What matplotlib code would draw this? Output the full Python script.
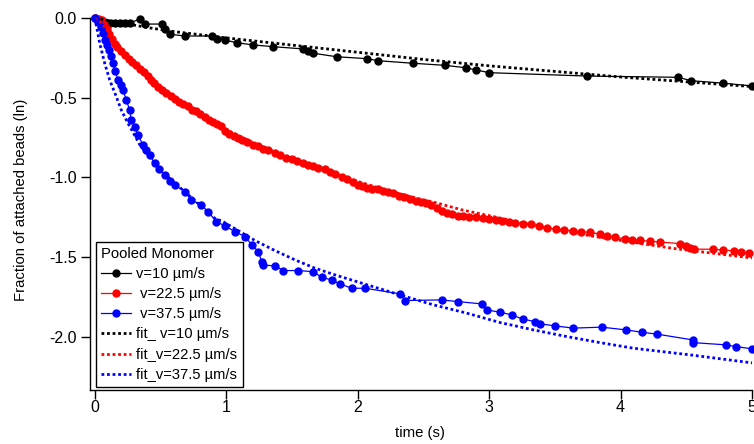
"""
Bead detachment vs time for pooled monomer at three pulling speeds,
with the fitted curves shown as dotted lines.
"""

import matplotlib
matplotlib.use("Agg")
import matplotlib.pyplot as plt

plt.rcParams["font.family"] = ["Liberation Sans", "DejaVu Sans"]
plt.rcParams["axes.unicode_minus"] = False


# ---- measured data (time in s, ln of fraction of attached beads) ----
t_10 = [0.0, 0.051, 0.114, 0.152, 0.19, 0.228, 0.266, 0.342, 0.381, 0.508, 0.533,
        0.571, 0.685, 0.888, 0.926, 0.989, 1.078, 1.205, 1.357, 1.585, 1.623, 1.661,
        1.839, 2.068, 2.156, 2.422, 2.664, 2.823, 2.9, 3.001, 3.742, 4.439, 4.536,
        4.782, 5.0]
y_10 = [0.0, -0.029, -0.033, -0.029, -0.029, -0.029, -0.029, -0.008, -0.038, -0.038,
        -0.071, -0.102, -0.113, -0.113, -0.132, -0.138, -0.155, -0.169, -0.180, -0.194,
        -0.205, -0.221, -0.243, -0.255, -0.268, -0.284, -0.297, -0.312, -0.326, -0.343,
        -0.364, -0.372, -0.393, -0.409, -0.426]

t_22 = [0.0, 0.03, 0.05, 0.07, 0.09, 0.11, 0.13, 0.15, 0.17, 0.20, 0.23, 0.26, 0.28,
        0.31, 0.34, 0.37, 0.40, 0.43, 0.45, 0.48, 0.51, 0.54, 0.58, 0.61, 0.64, 0.67,
        0.71, 0.74, 0.77, 0.80, 0.84, 0.87, 0.90, 0.93, 0.96, 0.99, 1.02, 1.06, 1.09,
        1.12, 1.16, 1.20, 1.24, 1.28, 1.32, 1.37, 1.41, 1.45, 1.50, 1.54, 1.58, 1.62,
        1.66, 1.70, 1.75, 1.79, 1.83, 1.88, 1.92, 1.96, 2.00, 2.03, 2.07, 2.11, 2.15,
        2.19, 2.23, 2.27, 2.31, 2.35, 2.40, 2.44, 2.48, 2.52, 2.56, 2.60, 2.64, 2.68,
        2.72, 2.76, 2.80, 2.85, 2.90, 2.95, 3.00, 3.05, 3.10, 3.15, 3.20, 3.26, 3.32,
        3.38, 3.44, 3.51, 3.57, 3.64, 3.70, 3.77, 3.84, 3.90, 3.96, 4.03, 4.09, 4.15,
        4.22, 4.30, 4.45, 4.50, 4.53, 4.56, 4.70, 4.78, 4.86, 4.92, 4.98]
y_22 = [0.0, -0.005, -0.015, -0.04, -0.07, -0.10, -0.13, -0.16, -0.18, -0.21, -0.235,
        -0.26, -0.275, -0.295, -0.32, -0.34, -0.365, -0.39, -0.41, -0.43, -0.45, -0.47,
        -0.49, -0.51, -0.525, -0.54, -0.555, -0.575, -0.585, -0.60, -0.62, -0.64, -0.65,
        -0.665, -0.68, -0.71, -0.725, -0.74, -0.755, -0.765, -0.78, -0.795, -0.805,
        -0.82, -0.83, -0.845, -0.86, -0.875, -0.885, -0.90, -0.91, -0.92, -0.93, -0.94,
        -0.95, -0.965, -0.98, -0.995, -1.01, -1.03, -1.045, -1.055, -1.065, -1.07,
        -1.075, -1.085, -1.09, -1.10, -1.115, -1.125, -1.135, -1.145, -1.155, -1.16,
        -1.175, -1.19, -1.21, -1.22, -1.23, -1.24, -1.24, -1.245, -1.245, -1.255, -1.26,
        -1.265, -1.275, -1.28, -1.285, -1.29, -1.295, -1.305, -1.315, -1.325, -1.33,
        -1.335, -1.34, -1.345, -1.355, -1.365, -1.375, -1.385, -1.39, -1.395, -1.40,
        -1.405, -1.415, -1.43, -1.44, -1.45, -1.45, -1.455, -1.46, -1.465, -1.475]

t_37 = [0.0, 0.02, 0.043, 0.06, 0.074, 0.09, 0.104, 0.12, 0.137, 0.155, 0.175, 0.195,
        0.213, 0.238, 0.264, 0.276, 0.302, 0.327, 0.365, 0.39, 0.416, 0.454, 0.49, 0.530,
        0.57, 0.607, 0.683, 0.733, 0.809, 0.860, 0.923, 0.989, 1.065, 1.142, 1.193, 1.243,
        1.269, 1.281, 1.370, 1.433, 1.547, 1.661, 1.725, 1.801, 1.865, 1.954, 2.055,
        2.321, 2.359, 2.638, 2.765, 2.943, 2.981, 3.082, 3.171, 3.259, 3.349, 3.387,
        3.501, 3.640, 3.856, 4.041, 4.161, 4.279, 4.549, 4.553, 4.802, 4.878, 5.0]
y_37 = [0.0, -0.025, -0.055, -0.095, -0.138, -0.17, -0.201, -0.24, -0.284, -0.335,
        -0.389, -0.42, -0.451, -0.514, -0.577, -0.639, -0.681, -0.734, -0.796, -0.83,
        -0.859, -0.911, -0.95, -0.984, -1.02, -1.047, -1.089, -1.141, -1.172, -1.214,
        -1.277, -1.304, -1.340, -1.371, -1.423, -1.465, -1.528, -1.549, -1.555, -1.584,
        -1.584, -1.591, -1.626, -1.643, -1.668, -1.695, -1.695, -1.730, -1.772, -1.768,
        -1.779, -1.793, -1.831, -1.845, -1.862, -1.889, -1.904, -1.918, -1.931, -1.945,
        -1.939, -1.956, -1.971, -1.983, -2.019, -2.036, -2.050, -2.061, -2.075]

# ---- fitted curves ----
tf_10 = [0.0, 0.2, 0.4, 0.6, 0.8, 1.0, 1.5, 2.0, 2.5, 3.0, 3.5, 4.0, 4.5, 5.0]
yf_10 = [0.0, -0.03, -0.06, -0.085, -0.105, -0.125, -0.17, -0.215, -0.26, -0.30,
         -0.335, -0.37, -0.40, -0.43]

tf_22 = [0.0, 0.05, 0.1, 0.2, 0.3, 0.4, 0.5, 0.6, 0.8, 1.0, 1.2, 1.4, 1.6, 1.8, 2.0,
         2.2, 2.4, 2.6, 2.8, 3.0, 3.2, 3.4, 3.6, 3.8, 4.0, 4.2, 4.4, 4.6, 4.8, 5.0]
yf_22 = [0.0, -0.03, -0.085, -0.2, -0.285, -0.36, -0.43, -0.495, -0.6, -0.7, -0.78,
         -0.85, -0.915, -0.97, -1.025, -1.075, -1.12, -1.16, -1.205, -1.24, -1.275,
         -1.31, -1.34, -1.37, -1.395, -1.42, -1.445, -1.465, -1.485, -1.505]

tf_37 = [0.0, 0.010, 0.036, 0.074, 0.112, 0.162, 0.200, 0.251, 0.342, 0.495, 0.685,
         0.911, 0.974, 1.218, 1.370, 1.522, 1.674, 1.826, 2.030, 2.321, 2.575, 2.829,
         3.082, 3.336, 3.590, 3.843, 4.097, 4.53, 5.0]
yf_37 = [0.0, -0.044, -0.159, -0.284, -0.389, -0.493, -0.577, -0.660, -0.796, -0.953,
         -1.091, -1.256, -1.277, -1.396, -1.459, -1.517, -1.569, -1.611, -1.663, -1.737,
         -1.799, -1.851, -1.910, -1.956, -1.998, -2.036, -2.071, -2.113, -2.163]

BLACK = "#000000"
RED = "#ff0000"
BLUE = "#0000ff"

fig = plt.figure(figsize=(7.54, 4.44), dpi=100)
ax = fig.add_axes([90 / 754, 54.5 / 444, 662 / 754, 371.5 / 444])

data_kw = dict(marker="o", markersize=5, lw=0.9, clip_on=False)
ax.plot(t_10, y_10, color=BLACK, label="v=10 µm/s", **data_kw)
ax.plot(t_22, y_22, color=RED, label=" v=22.5 µm/s", **data_kw)
ax.plot(t_37, y_37, color=BLUE, label=" v=37.5 µm/s", **data_kw)

fit_kw = dict(lw=2.0, linestyle=(0, (1, 1)), clip_on=False)
ax.plot(tf_10, yf_10, color=BLACK, label="fit_ v=10 µm/s", **fit_kw)
ax.plot(tf_22, yf_22, color=RED, label="fit_v=22.5 µm/s", **fit_kw)
ax.plot(tf_37, yf_37, color=BLUE, label="fit_v=37.5 µm/s", **fit_kw)

ax.set_xlim(-0.038, 5.0)
ax.set_ylim(-2.33, 0.0)
ax.set_xticks([0, 1, 2, 3, 4, 5])
ax.set_yticks([0.0, -0.5, -1.0, -1.5, -2.0])
ax.set_yticklabels(["0.0", "-0.5", "-1.0", "-1.5", "-2.0"])

for side in ("top", "right"):
    ax.spines[side].set_visible(False)
for side in ("left", "bottom"):
    ax.spines[side].set_linewidth(1.0)
ax.tick_params(direction="out", length=6.5, width=1.0, labelsize=11.5, colors="black")
ax.tick_params(axis="x", pad=1)
ax.tick_params(axis="y", pad=3)

ax.set_xlabel("time (s)", fontsize=10.7)
ax.set_ylabel("Fraction of attached beads (ln)", fontsize=10.7)
ax.xaxis.set_label_coords((420 - 90) / 662, -36 / 371.5)
ax.yaxis.set_label_coords(-62 / 662, (389.5 - 200) / 371.5)

leg = ax.legend(loc="lower left", bbox_to_anchor=(6 / 662, 2.5 / 371.5),
                borderaxespad=0, title="Pooled Monomer", alignment="left",
                fontsize=10.6, title_fontsize=10.6, frameon=True, fancybox=False,
                edgecolor="black", framealpha=1, handlelength=2.0,
                handletextpad=0.4, labelspacing=0.42, borderpad=0.35)
leg.get_frame().set_linewidth(1.0)

plt.savefig("out.png", dpi=100)
